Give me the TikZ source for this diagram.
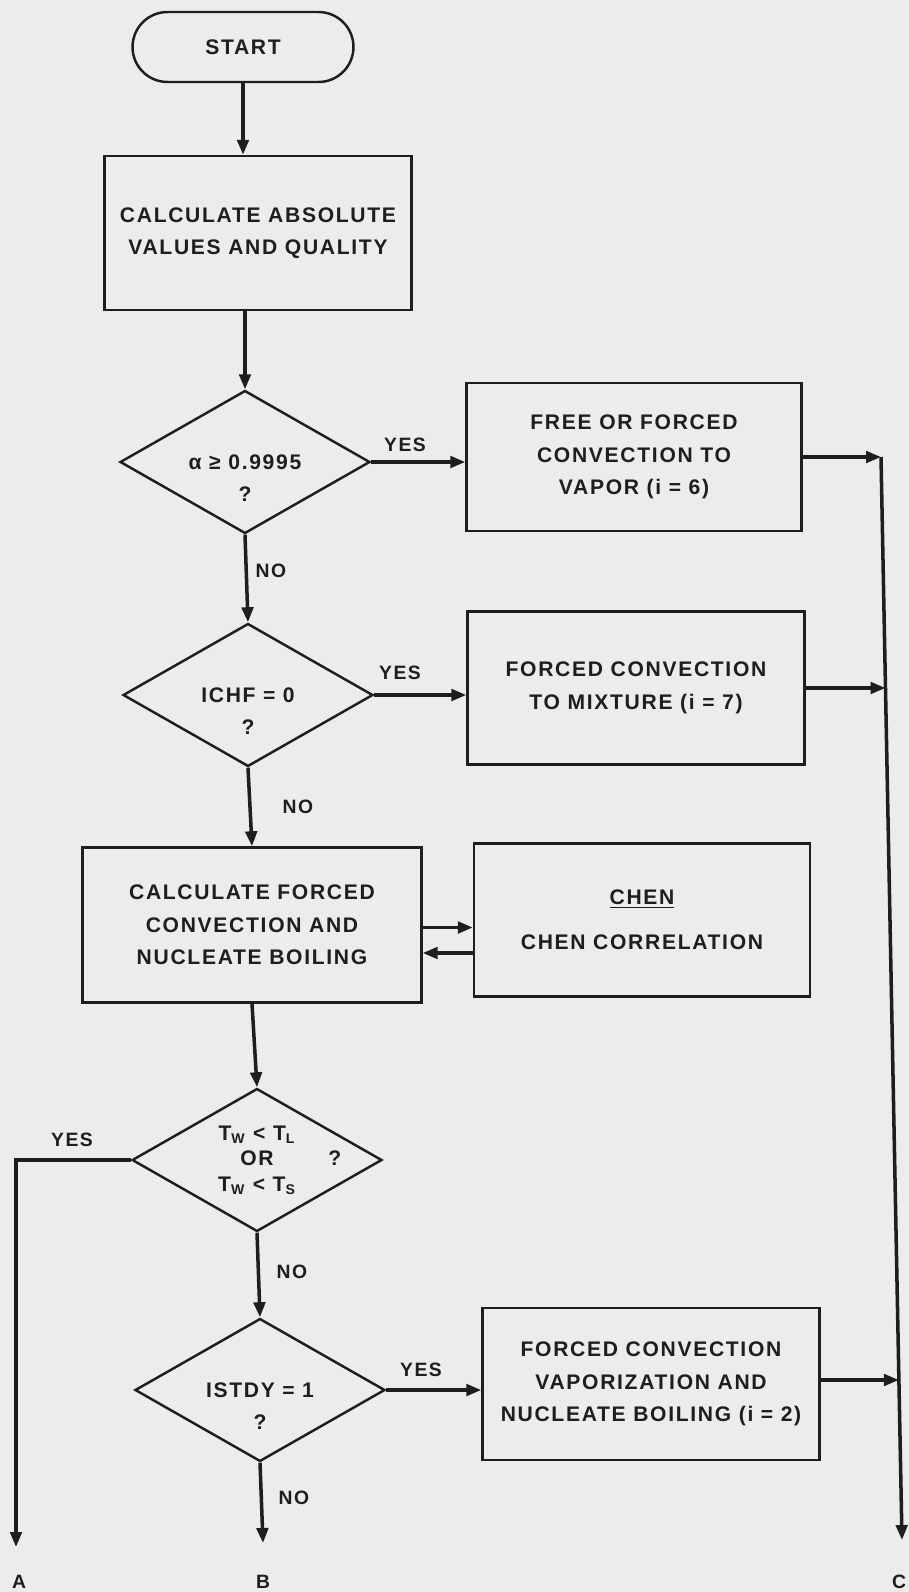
\documentclass[tikz,border=0pt]{standalone}
\usepackage{fontspec}
\newfontfamily\chartfont[LetterSpace=8]{Liberation Sans}
\usetikzlibrary{arrows.meta,shapes.geometric,calc}
\definecolor{paper}{HTML}{ECECEA}
\definecolor{ink}{HTML}{1E1E1E}

\begin{document}
\begin{tikzpicture}[x=0.02cm,y=-0.02cm,>={Triangle[length=3mm,width=2.3mm]},
  font=\chartfont\bfseries\fontsize{12}{18.5}\selectfont,ink]
\tikzset{
  terminal/.style={draw=ink,line width=1.4pt,rounded corners=0.7cm,inner sep=0pt},
  procbox/.style={draw=ink,line width=1.4pt,align=center,inner sep=0pt},
  decision/.style={draw=ink,diamond,line width=1.4pt,inner sep=0pt,minimum width=5cm,minimum height=2.86cm},
  flow/.style={->,line width=2pt},
  tag/.style={font=\chartfont\bfseries\fontsize{11}{13}\selectfont}
}
\fill[paper] (0,0) rectangle (909,1592);
\useasboundingbox (0,0) rectangle (909,1592);

% main column
\node[terminal,minimum width=4.42cm,minimum height=1.4cm] (start) at (243,47) {START};
\node[procbox,minimum width=6.14cm,minimum height=3.08cm] (absval) at (258,233)
  {CALCULATE ABSOLUTE\\VALUES AND QUALITY};
\node[decision,label={[align=center,yshift=-0.32cm]center:{α ≥ 0.9995\\?}}] (alpha) at (245,462) {};
\node[decision,label={[align=center,yshift=-0.32cm]center:{ICHF = 0\\?}}] (ichf) at (248,695) {};
\node[procbox,minimum width=6.78cm,minimum height=3.1cm] (forced) at (252,925)
  {CALCULATE FORCED\\CONVECTION AND\\NUCLEATE BOILING};
\node[decision,label={[align=center,font=\chartfont\bfseries\fontsize{12}{14.5}\selectfont]center:{T\textsubscript{W} < T\textsubscript{L}\\OR\rlap{\hspace{2.6em}?}\\T\textsubscript{W} < T\textsubscript{S}}}] (twall) at (257,1160) {};
\node[decision,label={[align=center,yshift=-0.32cm]center:{ISTDY = 1\\?}}] (istdy) at (260,1390) {};

% right column
\node[procbox,minimum width=6.7cm,minimum height=2.96cm] (vapor) at (634,457)
  {FREE OR FORCED\\CONVECTION TO\\VAPOR (i = 6)};
\node[procbox,minimum width=6.74cm,minimum height=3.06cm] (mixture) at (636,688)
  {FORCED CONVECTION\\TO MIXTURE (i = 7)};
\node[procbox,minimum width=6.72cm,minimum height=3.06cm] (chen) at (642,920)
  {\underline{CHEN}\\[0.25cm]CHEN CORRELATION};
\node[procbox,minimum width=6.74cm,minimum height=3.04cm] (vapboil) at (651,1384)
  {FORCED CONVECTION\\VAPORIZATION AND\\NUCLEATE BOILING (i = 2)};

\coordinate (ctop) at (881,457);
\coordinate (cend) at (902,1540);
\coordinate (j2) at ($(ctop)!0.214!(cend)$);
\coordinate (j3) at ($(ctop)!0.852!(cend)$);
\coordinate (aend) at (16,1547);
\coordinate (bend) at (263,1543);

\draw[flow] (start) -- (start.south |- absval.north);
\draw[flow] (absval.south -| alpha.north) -- (alpha.north);
\draw[flow] (alpha.south) -- (ichf.north);
\draw[flow] (ichf.south) -- (forced.north);
\draw[flow] (forced.south) -- (twall.north);
\draw[flow] (twall.south) -- (istdy.north);
\draw[flow] (istdy.south) -- (bend);
\draw[flow] (twall.west) -| (aend);

\draw[flow] (alpha.east) -- (alpha.east -| vapor.west);
\draw[flow] (ichf.east) -- (ichf.east -| mixture.west);
\draw[flow] (istdy.east) -- (istdy.east -| vapboil.west);
\draw[flow] ([yshift=-0.05cm]forced.east) -- ([yshift=-0.05cm]forced.east -| chen.west);
\draw[flow] ([yshift=-0.56cm]forced.east -| chen.west) -- ([yshift=-0.56cm]forced.east);

\draw[flow] (vapor.east) -- (ctop);
\draw[flow] (ctop) -- (cend);
\draw[flow] (mixture.east) -- (mixture.east -| j2);
\draw[flow] ([yshift=0.08cm]vapboil.east) -- ([yshift=0.08cm]vapboil.east -| j3);

% branch labels
\node[tag] (yes1) at (405,445) {YES};
\node[tag] (no1) at (271,571) {NO};
\node[tag] (yes2) at (400,673) {YES};
\node[tag] (no2) at (298,807) {NO};
\node[tag] (yes3) at (72,1140) {YES};
\node[tag] (no3) at (292,1272) {NO};
\node[tag] (yes4) at (421,1370) {YES};
\node[tag] (no4) at (294,1498) {NO};
\node[tag] (outa) at (19,1582) {A};
\node[tag] (outb) at (263,1582) {B};
\node[tag] (outc) at (899,1582) {C};
\end{tikzpicture}
\end{document}
